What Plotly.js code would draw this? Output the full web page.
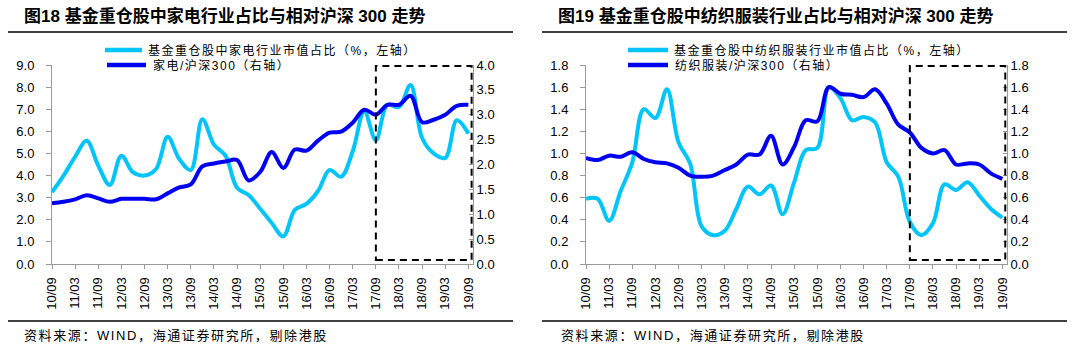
<!DOCTYPE html>
<html>
<head>
<meta charset="utf-8">
<script src="https://cdn.plot.ly/plotly-3.0.1.min.js"></script>
<style>
html,body{margin:0;padding:0;background:#fff;}
#chart{width:1073px;height:353px;}
</style>
</head>
<body>
<div id="chart"></div>
<script>
// ---- data ----
const quarters = ['10/09','10/12','11/03','11/06','11/09','11/12','12/03','12/06','12/09','12/12',
  '13/03','13/06','13/09','13/12','14/03','14/06','14/09','14/12','15/03','15/06','15/09','15/12',
  '16/03','16/06','16/09','16/12','17/03','17/06','17/09','17/12','18/03','18/06','18/09','18/12',
  '19/03','19/06','19/09'];
const tickLabels = ['10/09','11/03','11/09','12/03','12/09','13/03','13/09','14/03','14/09','15/03',
  '15/09','16/03','16/09','17/03','17/09','18/03','18/09','19/03','19/09'];

// 家电
const appShare = [3.25,4.0,4.85,5.57,4.45,3.57,4.9,4.15,4.0,4.3,5.75,4.75,4.25,6.55,5.4,4.9,3.45,3.12,2.5,1.85,
  1.25,2.45,2.72,3.3,4.25,3.95,5.1,6.9,5.6,7.2,7.1,8.1,5.7,5.0,4.8,6.5,5.9];
const appRel = [1.22,1.25,1.3,1.38,1.32,1.25,1.31,1.31,1.31,1.30,1.42,1.54,1.6,1.96,2.02,2.06,2.09,1.68,1.85,2.25,
  1.93,2.3,2.28,2.48,2.64,2.66,2.84,3.1,3.0,3.2,3.2,3.38,2.85,2.9,3.0,3.18,3.2];
// 纺织服装
const texShare = [0.59,0.59,0.39,0.66,0.92,1.4,1.32,1.58,1.1,0.91,0.34,0.26,0.3,0.5,0.70,0.63,0.71,0.45,0.74,1.03,
  1.05,1.6,1.5,1.3,1.33,1.28,0.92,0.79,0.38,0.26,0.37,0.72,0.67,0.74,0.62,0.5,0.42];
const texRel = [0.96,0.94,0.98,0.97,1.01,0.95,0.92,0.91,0.87,0.8,0.79,0.8,0.85,0.9,0.99,0.99,1.16,0.9,1.06,1.3,
  1.29,1.6,1.54,1.53,1.51,1.58,1.45,1.26,1.19,1.05,1.0,1.03,0.9,0.91,0.9,0.82,0.77];

const names = {
  appShare: '基金重仓股中家电行业市值占比（%，左轴）',
  appRel: '家电/沪深300（右轴）',
  texShare: '基金重仓股中纺织服装行业市值占比（%，左轴）',
  texRel: '纺织服装/沪深300（右轴）'
};
const titles = ['图18 基金重仓股中家电行业占比与相对沪深 300 走势', '图19 基金重仓股中纺织服装行业占比与相对沪深 300 走势'];
const sourceText = '资料来源：WIND，海通证券研究所，剔除港股';

// ---- style ----
const W = 1073, H = 353;
const px = v => v / W;
const py = v => 1 - v / H;
const CYAN = '#00C4FA', BLUE = '#0000F0', AX = '#9a9a9a';
const FONT = 'Liberation Sans, Arial, Noto Sans CJK SC, sans-serif';

function line(x, y, name, color, xa, ya) {
  return {x: x, y: y, name: name, type: 'scatter', mode: 'lines', xaxis: xa, yaxis: ya, showlegend: false,
    line: {color: color, width: 4, shape: 'spline', smoothing: 1}, hoverinfo: 'skip'};
}
const traces = [
  line(quarters, appShare, names.appShare, CYAN, 'x', 'y'),
  line(quarters, appRel, names.appRel, BLUE, 'x', 'y2'),
  line(quarters, texShare, names.texShare, CYAN, 'x2', 'y3'),
  line(quarters, texRel, names.texRel, BLUE, 'x2', 'y4')
];

const xBase = {type: 'category', range: [0, 36.4], tickmode: 'array', tickvals: tickLabels, ticktext: tickLabels,
  tickangle: -90, ticks: 'outside', ticklen: 4, tickcolor: AX, showline: true, linecolor: AX, linewidth: 1,
  showgrid: false, zeroline: false, fixedrange: true, ticklabelstandoff: 3, tickfont: {family: FONT, size: 13, color: '#000'}};
const yDom = [py(264), py(65)];
function yLeft(range, dtick) {
  return {domain: yDom, range: range, dtick: dtick, tick0: 0, tickformat: '.1f', ticks: 'outside', ticklen: 5,
    tickcolor: AX, showline: true, linecolor: AX, linewidth: 1, showgrid: false, zeroline: false,
    fixedrange: true, ticklabelstandoff: 9, tickfont: {family: FONT, size: 13, color: '#000'}};
}
function yRight(range, dtick, over, anchor) {
  return Object.assign(yLeft(range, dtick), {overlaying: over, side: 'right', anchor: anchor,
    ticks: 'inside', ticklen: 4, ticklabelstandoff: 0});
}

// legend rows: [sample x0, sample x1, text x, y, colour, label]
const legendRows = [
  [105, 142, 146, 50, CYAN, names.appShare],
  [107, 146, 151, 65, BLUE, names.appRel],
  [628, 668, 672, 50, CYAN, names.texShare],
  [628, 668, 673, 65, BLUE, names.texRel]
];

const shapes = [
  {type: 'line', xref: 'paper', yref: 'paper', x0: px(8), x1: px(513), y0: py(32), y1: py(32), line: {color: '#000', width: 1.3}},
  {type: 'line', xref: 'paper', yref: 'paper', x0: px(542), x1: px(1067), y0: py(32), y1: py(32), line: {color: '#000', width: 1.3}},
  {type: 'line', xref: 'paper', yref: 'paper', x0: px(8), x1: px(513), y0: py(321), y1: py(321), line: {color: '#000', width: 1.3}},
  {type: 'line', xref: 'paper', yref: 'paper', x0: px(542), x1: px(1067), y0: py(321), y1: py(321), line: {color: '#000', width: 1.3}},
  {type: 'rect', xref: 'x', yref: 'y domain', x0: 28, x1: 36.28, y0: 0.02, y1: 0.995, line: {color: '#000', width: 2, dash: '7px,5px'}},
  {type: 'rect', xref: 'x2', yref: 'y3 domain', x0: 28, x1: 36.25, y0: 0.02, y1: 0.995, line: {color: '#000', width: 2, dash: '7px,5px'}}
];
const annotations = [
  {text: '<b>' + titles[0] + '</b>', xref: 'paper', yref: 'paper', x: px(22), y: py(16), xanchor: 'left', yanchor: 'middle', showarrow: false, font: {family: FONT, size: 17, color: '#000'}},
  {text: '<b>' + titles[1] + '</b>', xref: 'paper', yref: 'paper', x: px(556), y: py(16), xanchor: 'left', yanchor: 'middle', showarrow: false, font: {family: FONT, size: 17, color: '#000'}},
  {text: sourceText, xref: 'paper', yref: 'paper', x: px(22), y: py(335), xanchor: 'left', yanchor: 'middle', showarrow: false, font: {family: FONT, size: 13, color: '#000'}, name: 'spaced'},
  {text: sourceText, xref: 'paper', yref: 'paper', x: px(559), y: py(335), xanchor: 'left', yanchor: 'middle', showarrow: false, font: {family: FONT, size: 13, color: '#000'}, name: 'spaced'}
];
legendRows.forEach(function (r) {
  shapes.push({type: 'line', xref: 'paper', yref: 'paper', x0: px(r[0]), x1: px(r[1]), y0: py(r[3]), y1: py(r[3]),
    line: {color: r[4], width: 4.5}});
  annotations.push({text: r[5], xref: 'paper', yref: 'paper', x: px(r[2]), y: py(r[3]), xanchor: 'left', yanchor: 'middle',
    showarrow: false, font: {family: FONT, size: 12, color: '#000'}});
});

const layout = {
  width: W, height: H, margin: {l: 0, r: 0, t: 0, b: 0},
  paper_bgcolor: '#fff', plot_bgcolor: 'rgba(0,0,0,0)',
  font: {family: FONT, size: 13, color: '#000'},
  showlegend: false,
  xaxis: Object.assign({}, xBase, {domain: [px(52), px(473)], anchor: 'y'}),
  xaxis2: Object.assign({}, xBase, {domain: [px(586), px(1007)], anchor: 'y3'}),
  yaxis: Object.assign(yLeft([0, 9], 1), {anchor: 'x'}),
  yaxis2: yRight([0, 4], 0.5, 'y', 'x'),
  yaxis3: Object.assign(yLeft([0, 1.8], 0.2), {anchor: 'x2'}),
  yaxis4: yRight([0, 1.8], 0.2, 'y3', 'x2'),
  shapes: shapes,
  annotations: annotations
};

// widen CJK text spacing while keeping the left edge where Plotly placed it
function spaceText(el, ls) {
  const b0 = el.getBBox();
  el.style.letterSpacing = ls;
  el.setAttribute('text-anchor', 'start');
  el.setAttribute('x', b0.x);
}

Plotly.newPlot('chart', traces, layout, {displayModeBar: false, staticPlot: true}).then(function () {
  const legendNames = Object.values(names);
  document.querySelectorAll('.annotation-text').forEach(function (t) {
    const s = t.textContent;
    if (s.indexOf('资料') === 0) spaceText(t, '1.6px');
    else if (legendNames.indexOf(s) >= 0) spaceText(t, '1.5px');
  });
});
</script>
</body>
</html>
